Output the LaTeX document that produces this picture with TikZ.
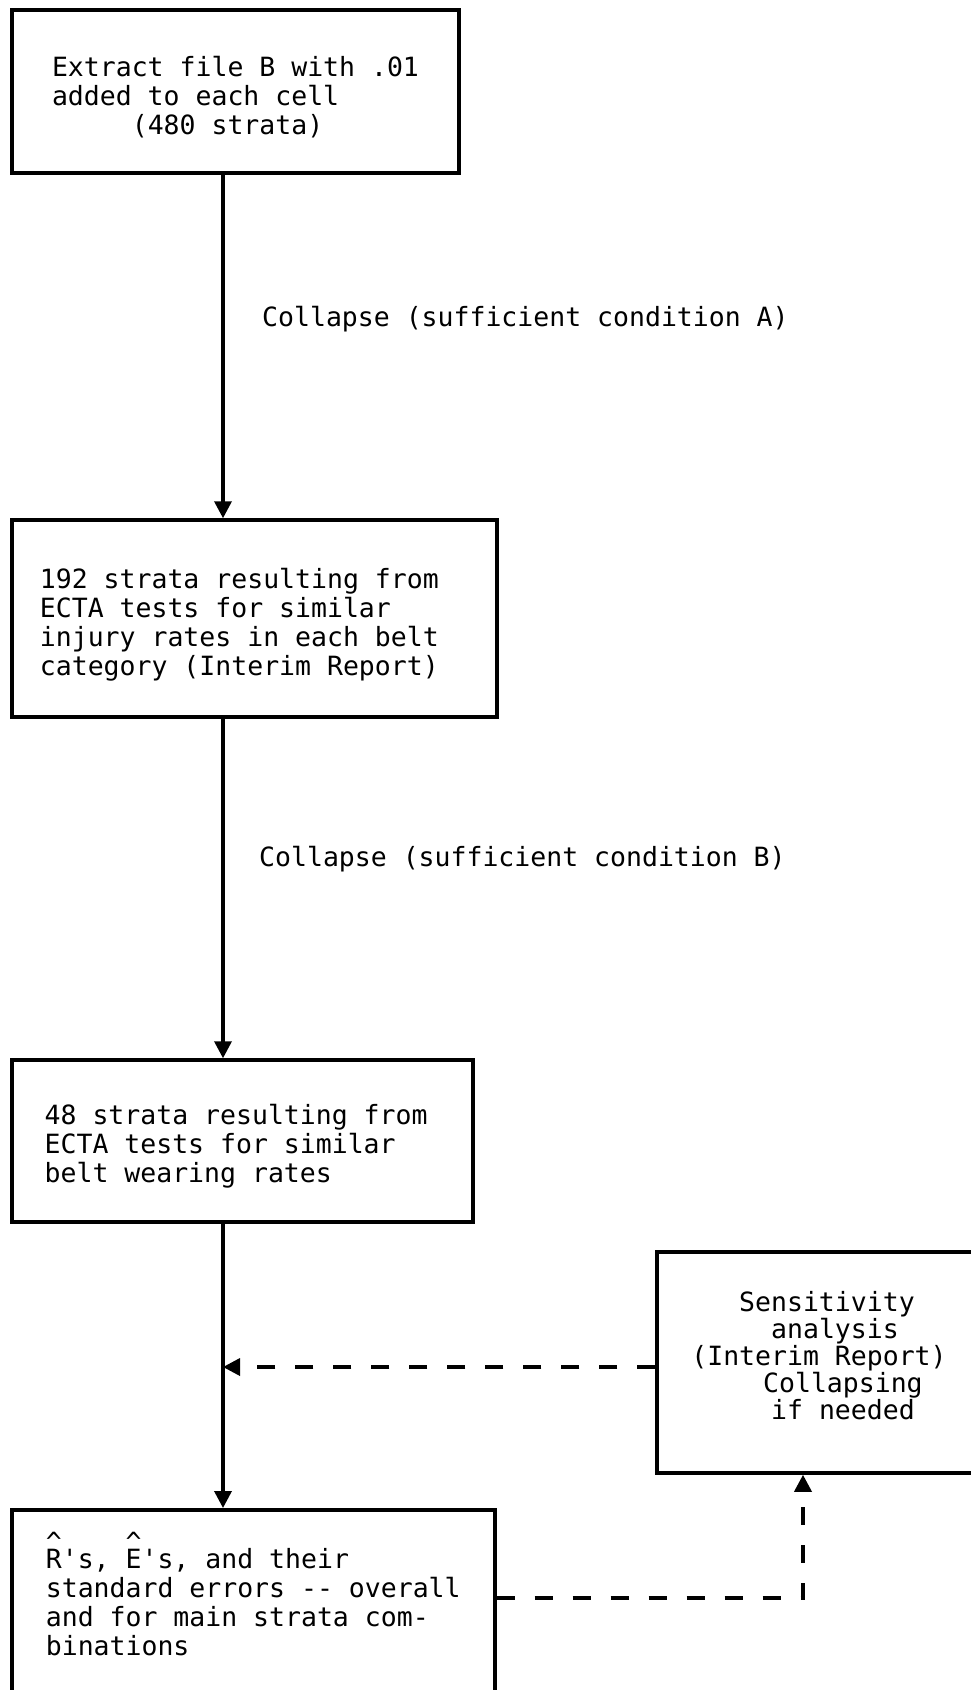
\documentclass[tikz,border=0pt]{standalone}
\usepackage{fontspec}
\setmonofont{DejaVu Sans Mono}
\usetikzlibrary{arrows.meta}

% blank space of a number of monospace character cells
\newcommand{\gap}[1]{\makebox[#1\fontcharwd\font`x]{}}
% circumflex struck over a letter, typewriter style
\newcommand{\hatover}[1]{\rlap{\smash{\raisebox{0.66em}{\textasciicircum}}}#1}
% invisible struts that push a text block down or up inside its frame
\newcommand{\lift}[1]{\vrule width 0pt height #1 depth 0pt}
\newcommand{\sink}[1]{\vrule width 0pt height 0pt depth #1}

\tikzset{
  typed/.style={font=\ttfamily\fontsize{26.5}{29}\selectfont},
  stepbox/.style={typed, draw, line width=3.5pt, inner sep=0pt, align=left},
  flow/.style={line width=3.5pt, -{Triangle[length=17pt,width=17pt]}},
  feedback/.style={flow, dash pattern=on 18pt off 20pt},
  caption/.style={typed, anchor=west, inner sep=0pt},
}

\begin{document}
\begin{tikzpicture}[x=1pt,y=-1pt]
  \fill[white] (0,0) rectangle (971,1690);
  \useasboundingbox (0,0) rectangle (971,1690);

  % common vertical line of the main flow
  \coordinate (spine) at (223,0);

  \node[stepbox, minimum width=447pt, minimum height=163pt] (extract) at (235.5,91.5)
    {\lift{32pt}Extract file B with .01\\added to each cell\\\gap{5}(480 strata)};

  \node[stepbox, minimum width=485pt, minimum height=197pt] (ecta192) at (254.5,618.5)
    {\lift{33pt}192 strata resulting from\gap{1.9}\\ECTA tests for similar\\injury rates in each belt\\category (Interim Report)};

  \node[stepbox, minimum width=461pt, minimum height=162pt] (ecta48) at (242.5,1141)
    {\lift{30pt}48 strata resulting from\gap{0.8}\\ECTA tests for similar\\belt wearing rates};

  \node[stepbox, anchor=north west, minimum width=483pt, minimum height=214pt] (estimates) at (10,1508)
    {\hatover{R}'s, \hatover{E}'s, and their\\standard errors -- overall\\and for main strata com-\\binations\\\mbox{}};

  \node[stepbox, minimum width=324pt, minimum height=221pt,
        font=\ttfamily\fontsize{26.5}{27}\selectfont] (sensitivity) at (819,1362.5)
    {\gap{3}Sensitivity\\\gap{5}analysis\\(Interim Report)\\\gap{4.5}Collapsing\\\gap{5}if needed\sink{14pt}};

  % main flow
  \draw[flow] (extract.south -| spine) -- (ecta192.north -| spine);
  \draw[flow] (ecta192.south -| spine) -- (ecta48.north -| spine);
  \draw[flow] (ecta48.south -| spine) -- (estimates.north -| spine);

  \node[caption] (condA) at (262,319) {Collapse (sufficient condition A)};
  \node[caption] (condB) at (259,859) {Collapse (sufficient condition B)};

  % sensitivity loop
  \coordinate (merge) at (223,1367);
  \coordinate (turn) at (803,1598);
  \draw[feedback] (sensitivity.west |- merge) -- (merge);
  \draw[feedback] (estimates.east |- turn) -- (turn) -- (sensitivity.south -| turn);
\end{tikzpicture}
\end{document}
